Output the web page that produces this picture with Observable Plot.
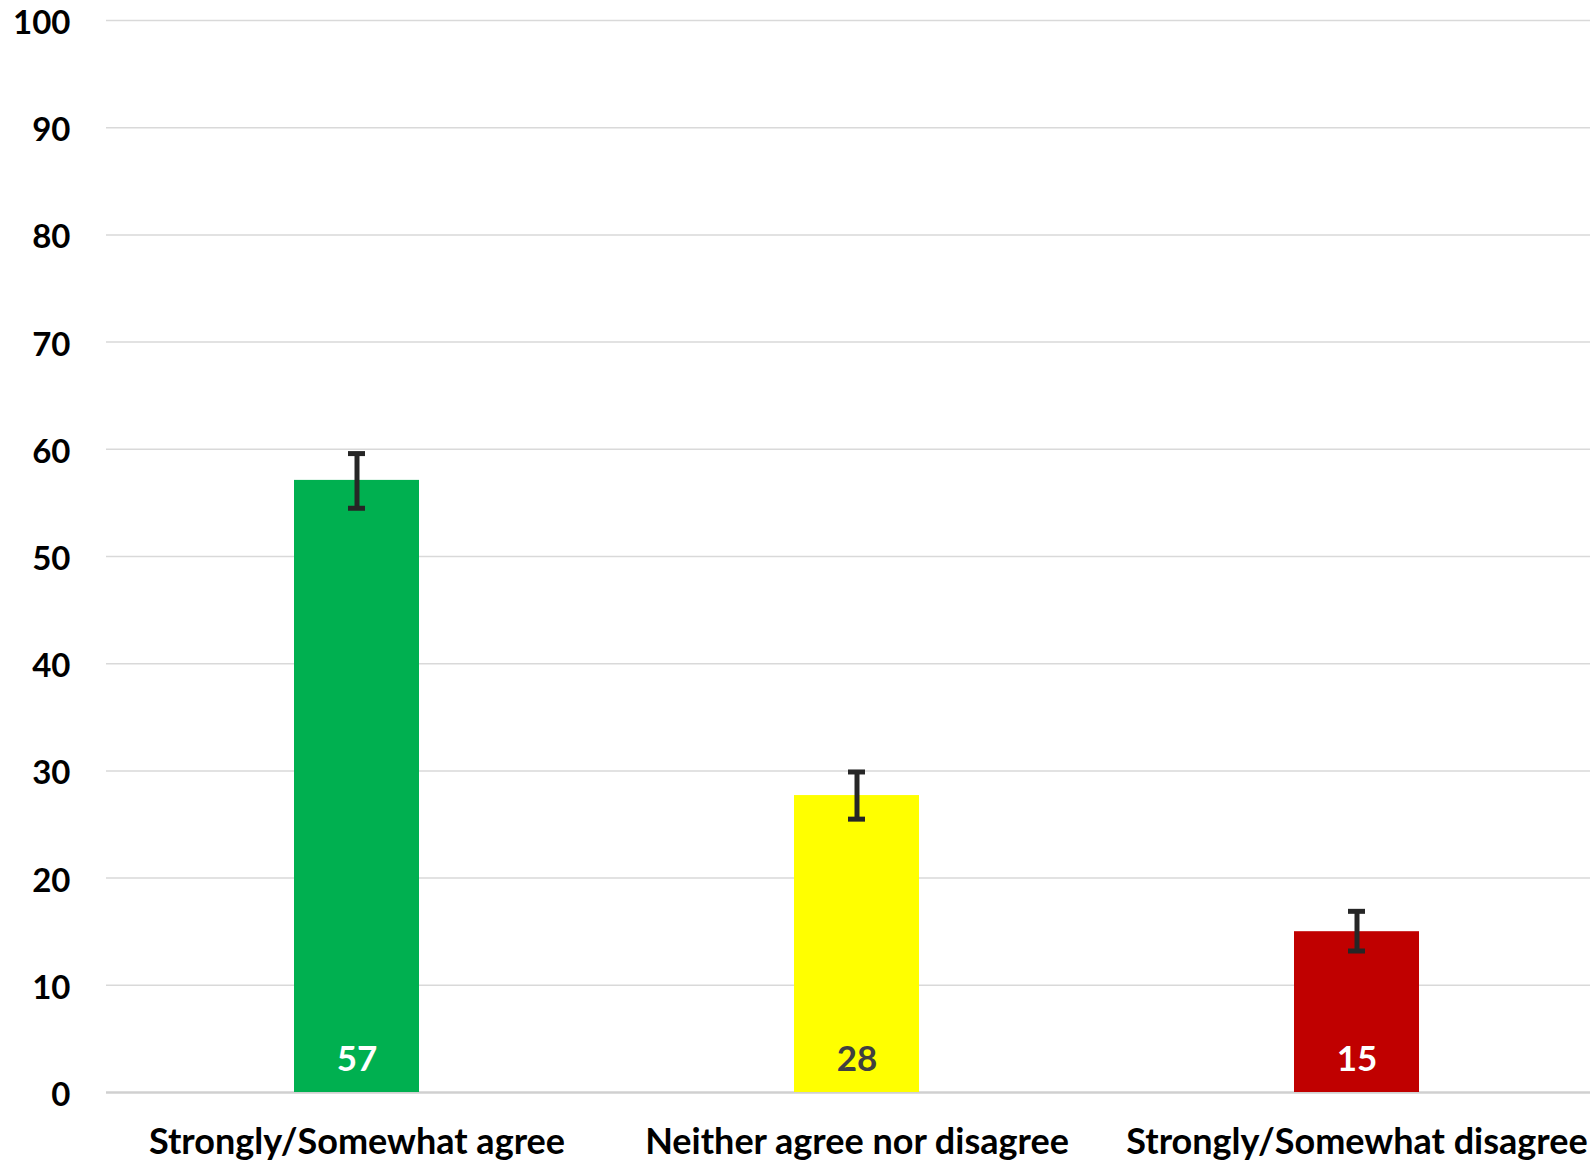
<!DOCTYPE html>
<html>
<head>
<meta charset="utf-8">
<script src="https://cdn.jsdelivr.net/npm/d3@7"></script>
<script src="https://cdn.jsdelivr.net/npm/@observablehq/plot@0.6"></script>
<style>
  html, body { margin: 0; padding: 0; background: #fff; overflow: hidden; }
  svg { font-family: Lato, "Open Sans", sans-serif; }
</style>
</head>
<body>
<div id="chart"></div>
<script>
const categories = ["Strongly/Somewhat agree", "Neither agree nor disagree", "Strongly/Somewhat disagree"];
const values = [57.1, 27.7, 15.0];
const labels = ["57", "28", "15"];
const errLow = [54.5, 25.5, 13.2];
const errHigh = [59.6, 29.9, 16.9];
const barColors = ["#00B050", "#FFFF00", "#C00000"];
const labelColors = ["#ffffff", "#404040", "#ffffff"];
const yTicks = [0, 10, 20, 30, 40, 50, 60, 70, 80, 90, 100];

const data = categories.map((c, i) => ({
  category: c, value: values[i], label: labels[i],
  lo: errLow[i], hi: errHigh[i], color: barColors[i], textColor: labelColors[i]
}));

const chart = Plot.plot({
  width: 1590,
  height: 1162,
  marginTop: 20,
  marginBottom: 70,
  marginLeft: 106,
  marginRight: -16,
  style: { fontFamily: "Lato, 'Open Sans', sans-serif", background: "#fff", overflow: "hidden" },
  x: { domain: categories, paddingInner: 0.75, paddingOuter: 0.375, label: null },
  y: { domain: [0, 100], label: null },
  marks: [
    Plot.ruleY(yTicks.filter(d => d !== 0), { stroke: "#d9d9d9", strokeWidth: 1.5 }),
    Plot.ruleY([0], { stroke: "#d0d0d0", strokeWidth: 2.5 }),
    Plot.barY(data, { x: "category", y: "value", fill: "color" }),
    Plot.ruleX(data, { x: "category", y1: "lo", y2: "hi", stroke: "#262626", strokeWidth: 5 }),
    Plot.tickY(data, { x: "category", y: "lo", stroke: "#262626", strokeWidth: 5, insetLeft: 54, insetRight: 54 }),
    Plot.tickY(data, { x: "category", y: "hi", stroke: "#262626", strokeWidth: 5, insetLeft: 54, insetRight: 54 }),
    Plot.text(data, { x: "category", y: 0, text: "label", fill: "textColor", fontSize: 35, fontWeight: "bold", dy: -33 }),
    Plot.axisY({ ticks: yTicks, tickSize: 0, tickPadding: 36, dy: 3, fontSize: 33, fontWeight: "bold", fill: "#000", label: null }),
    Plot.axisX({ tickSize: 0, tickPadding: 36, fontSize: 36, fontWeight: "bold", fill: "#000", label: null })
  ]
});
document.getElementById("chart").appendChild(chart);
</script>
</body>
</html>
